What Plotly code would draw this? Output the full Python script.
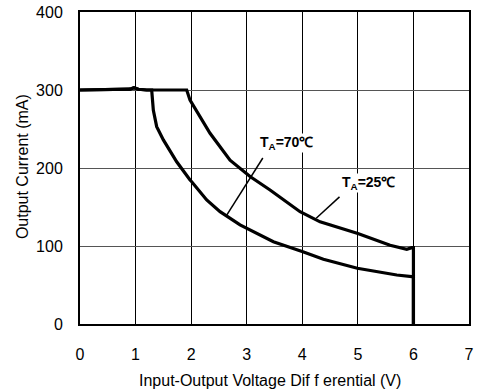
import plotly.graph_objects as go

# Data
x_70 = [0, 0.5, 0.9, 0.97, 1.05, 1.2, 1.29, 1.32, 1.38, 1.50, 1.68, 1.74, 1.98, 2.01, 2.28, 2.52, 2.88, 3.06, 3.48, 4.01, 4.38, 4.99, 5.28, 5.70, 5.97, 6.0, 6.0]
y_70 = [300, 300, 301, 303, 301, 300, 300, 274, 253, 236, 214.5, 208, 184.6, 182.4, 159, 144, 127, 120.5, 105.5, 92.7, 83, 71.4, 68, 62.8, 60.7, 61, 0]

x_25 = [0, 0.5, 0.9, 0.97, 1.05, 1.2, 1.5, 1.92, 1.98, 2.16, 2.34, 2.70, 2.88, 3.06, 3.42, 3.96, 4.32, 4.5, 5.0, 5.58, 5.88, 5.97, 6.0, 6.0]
y_25 = [300, 300, 301, 303, 301, 300, 300, 300, 287, 265.8, 244.5, 210, 199.6, 189, 171.8, 144, 131, 127, 116, 101, 95.7, 97.8, 97.8, 0]

label_70 = "T<sub>A</sub>=70℃"
label_25 = "T<sub>A</sub>=25℃"
label_70_pos = (3.72, 232)
label_25_pos = (5.19, 181)
leader_70 = ([3.29, 2.64], [212.8, 139.7])
leader_25 = ([4.67, 4.25], [163, 135.5])

x_ticks = [0, 1, 2, 3, 4, 5, 6, 7]
y_ticks = [0, 100, 200, 300, 400]
x_title = "Input-Output Voltage Dif f erential (V)"
y_title = "Output Current (mA)"

FONT = "Liberation Sans, Arial, sans-serif"

fig = go.Figure()
for lx, ly in (leader_70, leader_25):
    fig.add_trace(go.Scatter(x=lx, y=ly, mode="lines",
                             line=dict(color="black", width=1.5), hoverinfo="skip"))
fig.add_trace(go.Scatter(x=x_70, y=y_70, mode="lines",
                         line=dict(color="black", width=3.2)))
fig.add_trace(go.Scatter(x=x_25, y=y_25, mode="lines",
                         line=dict(color="black", width=3.2)))

for txt, (tx, ty) in ((label_70, label_70_pos), (label_25, label_25_pos)):
    fig.add_annotation(x=tx, y=ty, text="<b>" + txt + "</b>", showarrow=False,
                       font=dict(family=FONT, size=14, color="black"),
                       bgcolor="white", borderpad=0)

# axis titles as paper-positioned annotations
fig.add_annotation(x=0.488, y=-0.1795, xref="paper", yref="paper",
                   text=x_title, showarrow=False, xanchor="center", yanchor="middle",
                   font=dict(family=FONT, size=16, color="black"))
fig.add_annotation(x=-0.149, y=0.503, xref="paper", yref="paper",
                   text=y_title, showarrow=False, xanchor="center", yanchor="middle",
                   textangle=-90,
                   font=dict(family=FONT, size=16, color="black"))

fig.update_layout(
    width=478, height=392,
    margin=dict(l=80, r=9, t=12, b=68, autoexpand=False),
    paper_bgcolor="white", plot_bgcolor="white",
    showlegend=False,
    font=dict(family=FONT, size=16, color="black"),
)
fig.update_xaxes(range=[0, 7], tickvals=x_ticks, ticks="", showgrid=True,
                 gridcolor="black", gridwidth=1, zeroline=False,
                 showline=True, linecolor="black", linewidth=2, mirror=True,
                 ticklabelstandoff=15, automargin=False)
fig.update_yaxes(range=[0, 400], tickvals=y_ticks, ticks="", showgrid=True,
                 gridcolor="#555555", gridwidth=1, zeroline=False,
                 showline=True, linecolor="black", linewidth=2, mirror=True,
                 ticklabelstandoff=12, automargin=False)

fig.write_html("out.html")
